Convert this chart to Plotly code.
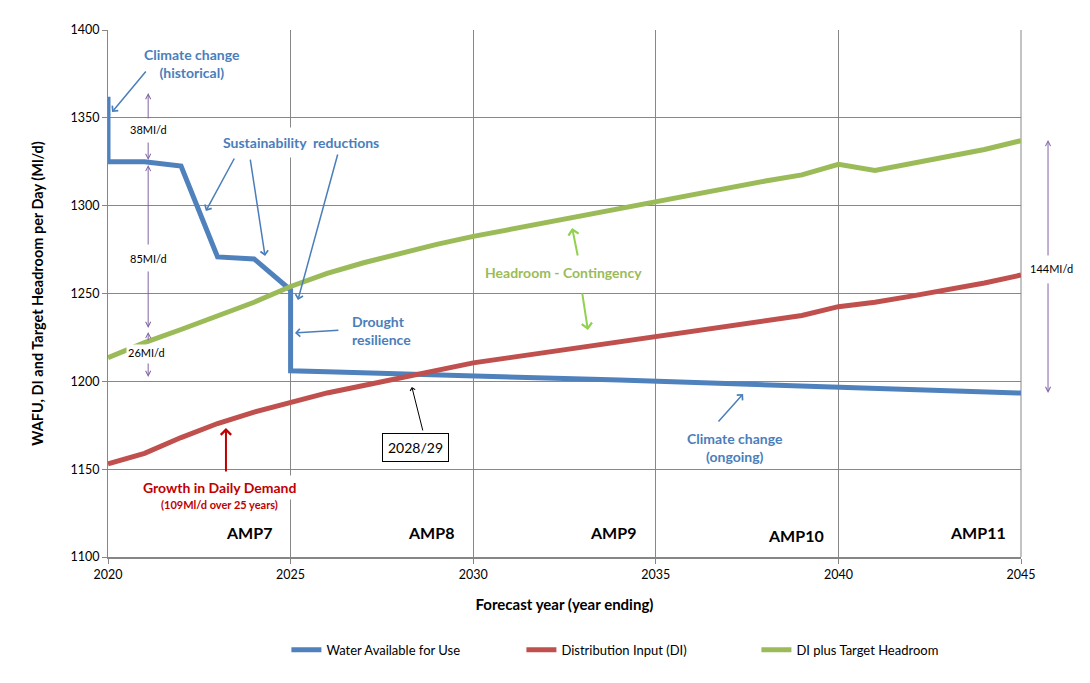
import plotly.graph_objects as go

# ---------------- data ----------------
years = list(range(2020, 2046))

wafu_x = [2020, 2020, 2021, 2022, 2023, 2024, 2025, 2025] + list(range(2026, 2046))
wafu_y = [1362, 1325, 1325, 1322.6, 1270.8, 1269.7, 1252, 1206,
          1205.5, 1205, 1204.3, 1203.7, 1203.1, 1202.5, 1202, 1201.3, 1200.7, 1200,
          1199.4, 1198.8, 1198.2, 1197.5, 1196.8, 1196.1, 1195.4, 1194.7, 1194, 1193.3]

di = [1153, 1159, 1168, 1176, 1182.5, 1188.3, 1193.4, 1197.6, 1202, 1206.5,
      1210.5, 1213.5, 1216.5, 1219.5, 1222.5, 1225.5, 1229, 1232, 1234.5, 1237.5,
      1242.5, 1245, 1248.5, 1252, 1256, 1260.5]

di_headroom = [1213.5, 1222, 1229.5, 1237, 1245, 1254, 1261.5, 1267.5, 1273, 1278,
               1282.5, 1286.5, 1290.5, 1294.5, 1298.5, 1302.5, 1306.5, 1310, 1314, 1317.5,
               1323.5, 1320, 1324, 1328, 1332, 1337]

x_ticks = [2020, 2025, 2030, 2035, 2040, 2045]
y_ticks = [1100, 1150, 1200, 1250, 1300, 1350, 1400]
amp_labels = ["AMP7", "AMP8", "AMP9", "AMP10", "AMP11"]
amp_x = [2023.86, 2028.84, 2033.83, 2038.84, 2043.82]
amp_y = [1114.2, 1114.2, 1114.2, 1112.5, 1114.2]

BLUE = "#4F81BD"
RED = "#C0504D"
GREEN = "#9BBB59"
TXT_BLUE = "#4A7EBB"
PURPLE = "#8064A2"
FONT = "Lato, 'Open Sans', sans-serif"

fig = go.Figure()
fig.add_trace(go.Scatter(x=wafu_x, y=wafu_y, mode="lines", name="Water Available for Use",
                         line=dict(color=BLUE, width=5)))
fig.add_trace(go.Scatter(x=years, y=di, mode="lines", name="Distribution Input (DI)",
                         line=dict(color=RED, width=5)))
fig.add_trace(go.Scatter(x=years, y=di_headroom, mode="lines", name="DI plus Target Headroom",
                         line=dict(color=GREEN, width=5)))

ann = []


def text(x, y, t, color="black", size=12, bold=True, bg=None, xanchor="center", border=None,
         pad=1, align="center", xref="x"):
    if bold:
        t = "<b>" + t + "</b>"
    d = dict(x=x, y=y, xref=xref, yref="y", text=t, showarrow=False, align=align,
             font=dict(family=FONT, size=size, color=color), xanchor=xanchor, yanchor="middle",
             borderpad=pad)
    if bg:
        d["bgcolor"] = bg
    if border:
        d["bordercolor"] = border
        d["borderwidth"] = 1
    ann.append(d)


def arrow(x0, y0, x1, y1, color, width=1.5, head=4, size=1.0):
    ann.append(dict(x=x1, y=y1, ax=x0, ay=y0, xref="x", yref="y", axref="x", ayref="y",
                    text="", showarrow=True, arrowhead=head, arrowsize=size,
                    arrowwidth=width, arrowcolor=color, standoff=0, startstandoff=0))


def paper_arrow(xp, y1, dy_px, color, width=1, head=5):
    # vertical arrow outside the plot area: tail offset given in pixels
    ann.append(dict(x=xp, y=y1, xref="paper", yref="y", ax=0, ay=dy_px,
                    axref="pixel", ayref="pixel", text="", showarrow=True,
                    arrowhead=head, arrowsize=1, arrowwidth=width, arrowcolor=color,
                    standoff=0, startstandoff=0))


# Climate change (historical)
text(2022.3, 1381.2, "Climate change<br>(historical)", TXT_BLUE, 14, bg="white")
arrow(2021.07, 1377.2, 2020.11, 1353.3, TXT_BLUE)

# Sustainability reductions
text(2025.28, 1336.2, "Sustainability  reductions", TXT_BLUE, 14, bg="white", pad=6)
arrow(2023.48, 1327.7, 2022.68, 1297.0, TXT_BLUE)
arrow(2023.89, 1327.1, 2024.30, 1271.4, TXT_BLUE)
arrow(2026.30, 1330.0, 2025.20, 1246.3, TXT_BLUE)

# Drought resilience
text(2026.62, 1229.2, "Drought<br>resilience", TXT_BLUE, 14, xanchor="left", align="left")
arrow(2026.35, 1229.2, 2025.12, 1227.5, TXT_BLUE)

# 2028/29 crossing
text(2028.43, 1162.6, "2028/29", "black", 14, bold=False, bg="white", border="black", pad=5)
arrow(2028.63, 1171.2, 2028.32, 1196.8, "black", width=1)

# Growth in daily demand
text(2023.04, 1139.3, "Growth in Daily Demand", "#C00000", 14, bg="white", pad=3)
text(2023.04, 1130.0, "(109Ml/d over 25 years)", "#C00000", 11, bg="white", pad=1)
arrow(2023.23, 1147.8, 2023.23, 1173.4, "#C00000", width=2)

# Headroom - Contingency
text(2032.46, 1261.7, "Headroom - Contingency", GREEN, 14, bg="white", pad=7)
arrow(2032.87, 1270.8, 2032.71, 1287.3, "#92D050", width=2)
arrow(2032.98, 1250.9, 2033.14, 1229.2, "#92D050", width=2)

# Climate change (ongoing)
text(2037.17, 1162.1, "Climate change<br>(ongoing)", TXT_BLUE, 14)
arrow(2036.68, 1176.3, 2037.39, 1192.8, TXT_BLUE)

# AMP labels
for lab, ax_, ay_ in zip(amp_labels, amp_x, amp_y):
    text(ax_, ay_, lab, "black", 16, bg="white", pad=3)

# Purple span arrows
px = 2021.10
arrow(px, 1348.8, px, 1364.1, PURPLE, width=1, head=5)
arrow(px, 1336.8, px, 1326.0, PURPLE, width=1, head=5)
text(px, 1343.1, "38MI/d", "black", 11, bold=False, bg="white")
arrow(px, 1277.0, px, 1323.2, PURPLE, width=1, head=5)
arrow(px, 1263.4, px, 1230.4, PURPLE, width=1, head=5)
text(px, 1270.2, "85MI/d", "black", 11, bold=False, bg="white")
arrow(px, 1222.4, px, 1228.1, PURPLE, width=1, head=5)
arrow(px, 1211.0, px, 1202.5, PURPLE, width=1, head=5)
text(px - 0.05, 1216.7, "26MI/d", "black", 11, bold=False, bg="white")

# 144 Ml/d span to the right of the plot area
qx = 1.0296
paper_arrow(qx, 1337.4, 117, PURPLE)
paper_arrow(qx, 1193.4, -111, PURPLE)
text(1.0329, 1264.0, "144MI/d", "black", 11, bold=False, xref="paper")

fig.update_layout(
    width=1090, height=683,
    margin=dict(l=108, r=69, t=30, b=126),
    paper_bgcolor="white", plot_bgcolor="white",
    font=dict(family=FONT, size=13, color="black"),
    annotations=ann,
    showlegend=True,
    legend=dict(orientation="h", x=0.5815, xanchor="center", y=-0.176, yanchor="middle",
                entrywidth=190, entrywidthmode="pixels",
                font=dict(family=FONT, size=13, color="black"), bgcolor="rgba(0,0,0,0)"),
)
fig.update_xaxes(range=[2020, 2045], tickvals=x_ticks, ticktext=[str(v) for v in x_ticks],
                 showgrid=True, gridcolor="#878787", gridwidth=1,
                 showline=True, linecolor="#868686", linewidth=2, mirror=False,
                 ticks="outside", ticklen=5, tickcolor="#868686", zeroline=False,
                 tickfont=dict(family=FONT, size=12.5, color="black"),
                 title=dict(text="<b>Forecast year (year ending)</b>",
                            font=dict(family=FONT, size=15, color="black"), standoff=18))
fig.update_yaxes(range=[1100, 1400], tickvals=y_ticks, ticktext=[str(v) for v in y_ticks],
                 showgrid=True, gridcolor="#878787", gridwidth=1,
                 showline=True, linecolor="#868686", linewidth=1,
                 ticks="outside", ticklen=5, tickcolor="#868686", zeroline=False,
                 tickfont=dict(family=FONT, size=12.5, color="black"),
                 title=dict(text="<b>WAFU, DI and Target Headroom per Day (Ml/d)</b>",
                            font=dict(family=FONT, size=14.5, color="black"), standoff=23))
# right border of plot area
fig.add_shape(type="line", xref="paper", yref="paper", x0=1, x1=1, y0=0, y1=1,
              line=dict(color="#878787", width=1), layer="below")

fig.write_html("out.html")
